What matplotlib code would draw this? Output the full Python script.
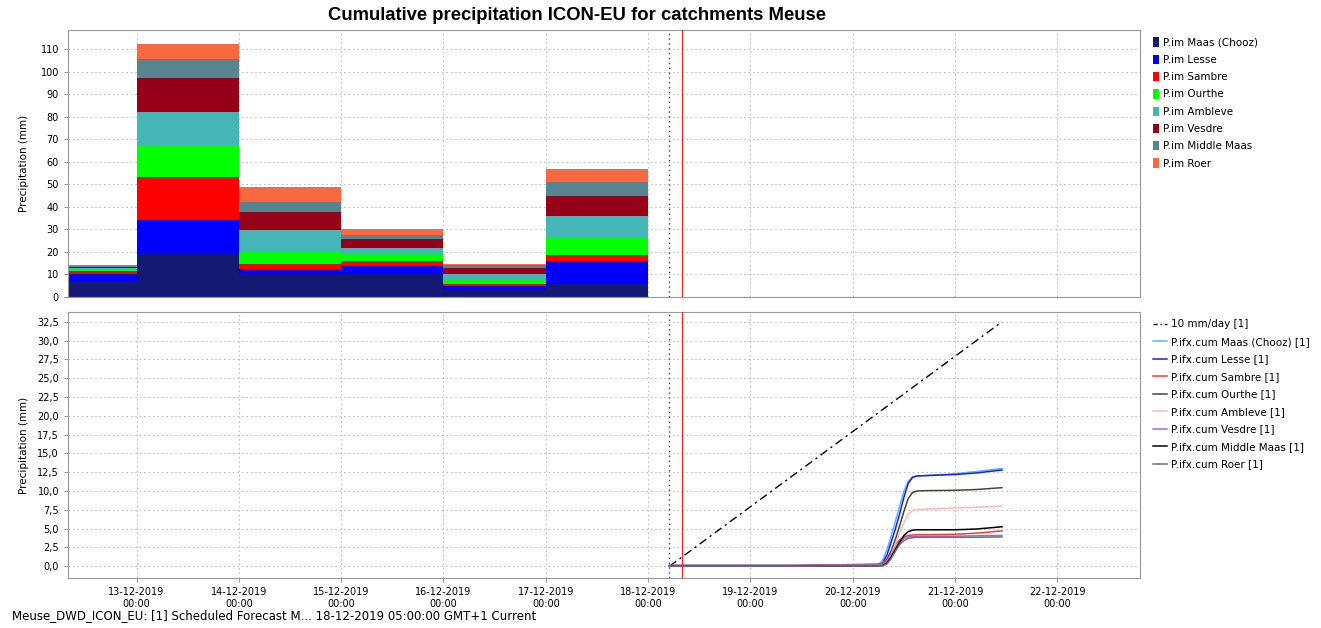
import matplotlib
matplotlib.use("Agg")
import matplotlib.pyplot as plt
import matplotlib.dates as mdates
from matplotlib.patches import Patch
from matplotlib.lines import Line2D
from matplotlib.ticker import FuncFormatter, MultipleLocator
import numpy as np
from datetime import datetime, timedelta

plt.rcParams['font.family'] = ['DejaVu Sans']

# ---------------- data: daily observed precipitation (top) ----------------
bar_days = ["2019-12-12", "2019-12-13", "2019-12-14", "2019-12-15", "2019-12-16", "2019-12-17"]
im_names = ["P.im Maas (Chooz)", "P.im Lesse", "P.im Sambre", "P.im Ourthe",
            "P.im Ambleve", "P.im Vesdre", "P.im Middle Maas", "P.im Roer"]
im_maas   = [7.1, 19.5, 10.2, 10.1, 3.0, 5.6]
im_lesse  = [3.0, 14.5, 2.1, 3.5, 1.75, 10.3]
im_sambre = [1.3, 19.1, 2.2, 2.4, 1.15, 2.8]
im_ourthe = [0.9, 14.4, 6.1, 3.2, 1.5, 8.1]
im_amblev = [0.5, 14.5, 9.3, 2.4, 3.0, 9.0]
im_vesdre = [0.5, 15.3, 7.8, 4.0, 2.4, 9.1]
im_midmaa = [0.5, 8.2, 4.3, 2.1, 1.4, 6.2]
im_roer   = [0.4, 7.0, 6.9, 2.6, 0.6, 5.5]
im_colors = ["#141a73", "#0000ff", "#ff0000", "#00ff00", "#45b5b8", "#960018", "#568591", "#fa6840"]

# ---------------- data: cumulative forecast (bottom) ----------------
t0 = "2019-12-18 05:00"
ref_hours = [0, 78]
ref_vals = [0.0, 32.5]
fc_hours = [0, 30, 40, 49, 50, 51, 52, 53, 54, 55, 56, 57, 58, 60, 67, 72, 78]
fc_maas   = [0.1, 0.1, 0.15, 0.2, 0.8, 2.2, 4.0, 6.0, 8.0, 10.0, 11.3, 11.9, 12.0, 12.05, 12.3, 12.6, 13.0]
fc_lesse  = [0.1, 0.1, 0.15, 0.2, 0.4, 1.5, 3.2, 5.0, 7.0, 9.2, 11.0, 11.8, 12.0, 12.05, 12.2, 12.4, 12.8]
fc_sambre = [0.1, 0.1, 0.2, 0.3, 0.4, 1.0, 2.0, 2.9, 3.5, 3.9, 4.1, 4.15, 4.2, 4.2, 4.25, 4.4, 4.7]
fc_ourthe = [0.05, 0.05, 0.1, 0.1, 0.2, 0.8, 2.0, 3.6, 5.4, 7.3, 9.0, 9.8, 10.0, 10.05, 10.1, 10.2, 10.45]
fc_amblev = [0.05, 0.05, 0.1, 0.1, 0.2, 0.6, 1.6, 3.0, 4.4, 5.8, 6.9, 7.4, 7.55, 7.6, 7.75, 7.85, 8.0]
fc_vesdre = [0.05, 0.05, 0.15, 0.15, 0.2, 0.6, 1.5, 2.5, 3.2, 3.7, 3.9, 4.0, 4.0, 4.0, 4.0, 4.05, 4.1]
fc_midmaa = [0.0, 0.0, 0.05, 0.05, 0.1, 0.4, 1.2, 2.2, 3.2, 4.1, 4.6, 4.8, 4.85, 4.85, 4.85, 4.95, 5.25]
fc_roer   = [0.0, 0.0, 0.05, 0.05, 0.05, 0.3, 1.0, 2.0, 2.9, 3.4, 3.7, 3.8, 3.85, 3.85, 3.85, 3.85, 3.9]
fc_names = ["P.ifx.cum Maas (Chooz) [1]", "P.ifx.cum Lesse [1]", "P.ifx.cum Sambre [1]",
            "P.ifx.cum Ourthe [1]", "P.ifx.cum Ambleve [1]", "P.ifx.cum Vesdre [1]",
            "P.ifx.cum Middle Maas [1]", "P.ifx.cum Roer [1]"]
fc_colors = ["#5ab4ff", "#1e1ee6", "#f03c3c", "#3c4a3c", "#ffb6c1", "#9370db", "#000000", "#707070"]

x_ticks = ["2019-12-%02d" % d for d in range(13, 23)]

# ---------------- figure ----------------
fig = plt.figure(figsize=(13.21, 6.28), dpi=100)
ax1 = fig.add_axes([68/1321, 1-297/628, (1140-68)/1321, (297-30)/628])
ax2 = fig.add_axes([68/1321, 1-578/628, (1140-68)/1321, (578-312)/628])

xmin = datetime(2019, 12, 12, 7, 56)
xmax = datetime(2019, 12, 22, 19, 22)
T0 = datetime.strptime(t0, "%Y-%m-%d %H:%M")
now = datetime(2019, 12, 18, 8, 0)

# stacked bars
series = [im_maas, im_lesse, im_sambre, im_ourthe, im_amblev, im_vesdre, im_midmaa, im_roer]
bx = [mdates.date2num(datetime.strptime(d, "%Y-%m-%d")) for d in bar_days]
bottom = np.zeros(len(bx))
for vals, c, n in zip(series, im_colors, im_names):
    ax1.bar(bx, vals, width=1.0, bottom=bottom, align='edge', color=c, linewidth=0, label=n, zorder=2)
    bottom += np.array(vals)

# forecast lines
fx = [T0 + timedelta(hours=h) for h in fc_hours]
rx = [T0 + timedelta(hours=h) for h in ref_hours]
ax2.plot(rx, ref_vals, color='black', linestyle=(0, (6, 3, 1.5, 3)), linewidth=1.0, zorder=3)
fser = [fc_maas, fc_lesse, fc_sambre, fc_ourthe, fc_amblev, fc_vesdre, fc_midmaa, fc_roer]
for vals, c in zip(fser, fc_colors):
    ax2.plot(fx, vals, color=c, linewidth=1.1, zorder=3)

tick_dates = [datetime.strptime(d, "%Y-%m-%d") for d in x_ticks]
for ax in (ax1, ax2):
    ax.set_xlim(xmin, xmax)
    ax.set_xticks(tick_dates)
    ax.grid(True, color='#c0c0c0', linestyle=(0, (1.5, 2.5)), linewidth=0.8, zorder=0)
    ax.set_axisbelow(True)
    ax.axvline(T0, color='#404040', linestyle=(0, (1, 2.5)), linewidth=1.0, zorder=4)
    ax.axvline(now, color='#e8302a', linewidth=1.0, zorder=4)
    for s in ax.spines.values():
        s.set_color('#999999')
    ax.tick_params(axis='both', labelsize=7, color='#999999', length=3)
    ax.set_ylabel("Precipitation (mm)", fontsize=7.5)

ax1.set_xticklabels([])
ax1.tick_params(axis='x', length=0)
ax1.set_ylim(0, 118.5)
ax1.yaxis.set_major_locator(MultipleLocator(10))

ax2.xaxis.set_major_formatter(mdates.DateFormatter("%d-%m-%Y\n%H:%M"))
ax2.set_ylim(-1.56, 33.8)
ax2.yaxis.set_major_locator(MultipleLocator(2.5))
ax2.yaxis.set_major_formatter(FuncFormatter(lambda v, p: ("%.1f" % v).replace('.', ',')))
ax1.yaxis.set_label_coords(-0.036, 0.5)
ax2.yaxis.set_label_coords(-0.036, 0.5)

fig.text(577/1321, 1-16/628, "Cumulative precipitation ICON-EU for catchments Meuse",
         ha='center', va='center', fontsize=13.3, fontweight='bold', family='Liberation Sans')

# legends
h1 = [Patch(facecolor=c, edgecolor='none', label=n) for c, n in zip(im_colors, im_names)]
ax1.legend(handles=h1, loc='upper left', bbox_to_anchor=(1.005, 1.0), frameon=False,
           fontsize=7.5, handlelength=0.6, handleheight=1.0, handletextpad=0.4,
           labelspacing=0.68, borderaxespad=0.3)
h2 = [Line2D([], [], color='black', linestyle=(0, (3, 2, 1, 2)), linewidth=1.0, label="10 mm/day [1]")]
h2 += [Line2D([], [], color=c, linewidth=1.1, label=n) for c, n in zip(fc_colors, fc_names)]
ax2.legend(handles=h2, loc='upper left', bbox_to_anchor=(1.005, 1.0), frameon=False,
           fontsize=7.5, handlelength=1.4, handletextpad=0.4, labelspacing=0.72, borderaxespad=0.3)

fig.text(12/1321, 1-616/628, "Meuse_DWD_ICON_EU: [1] Scheduled Forecast M... 18-12-2019 05:00:00 GMT+1 Current",
         ha='left', va='center', fontsize=8.5)

fig.savefig("out.png", dpi=100)
